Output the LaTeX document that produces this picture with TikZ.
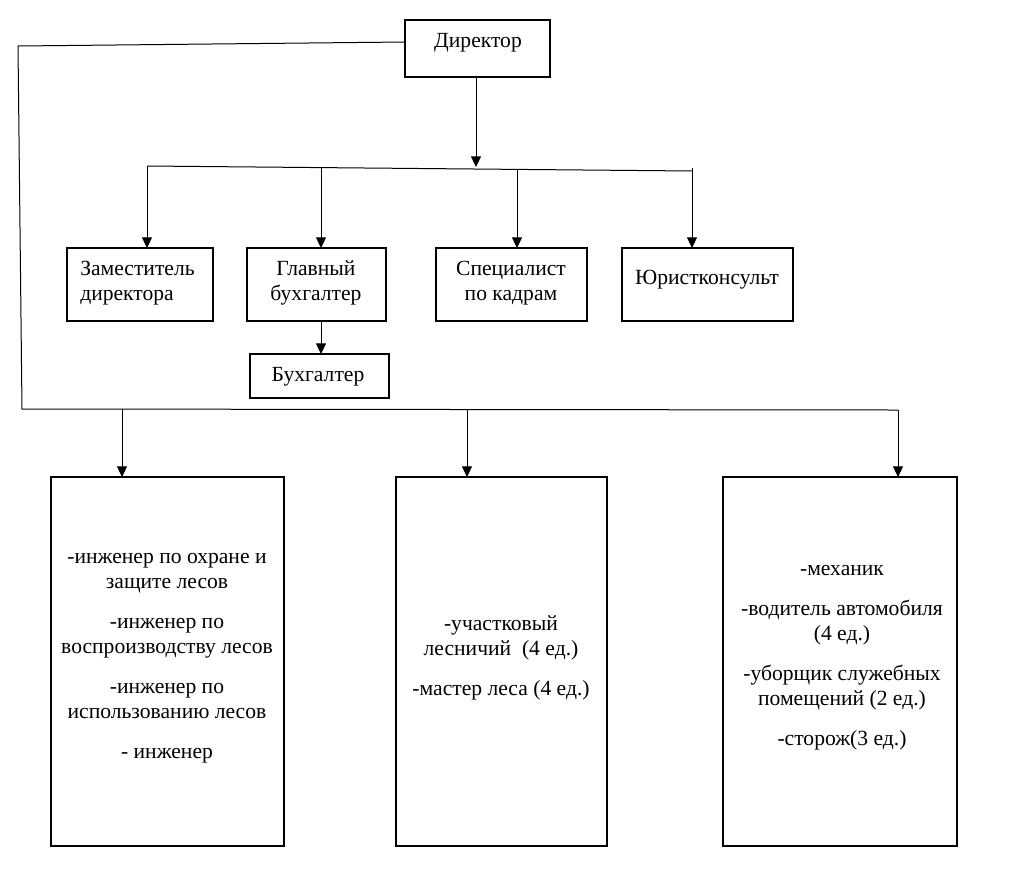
\documentclass[tikz,border=0pt]{standalone}
\usepackage{fontspec}
\setmainfont{Liberation Serif}
\usetikzlibrary{arrows.meta,fit}
\begin{document}
\begin{tikzpicture}[x=0.75pt,y=-0.75pt,
  box/.style={draw,line width=1.6pt,inner sep=0pt,outer sep=0pt},
  txt/.style={font=\fontsize{16.2}{18.75}\selectfont,align=center,inner sep=0pt},
  conn/.style={line width=0.75pt},
  arr/.style={conn,-{Triangle[length=8pt,width=7.5pt]}}]
\useasboundingbox (0,0) rectangle (1021,876);
% boxes
\node[box,fit={(405,20)(550,77)}] (dir) {};
\node[box,fit={(67,248)(213,321)}] (zam) {};
\node[box,fit={(247,248)(386,321)}] (glav) {};
\node[box,fit={(436,248)(587,321)}] (spec) {};
\node[box,fit={(622,248)(793,321)}] (jur) {};
\node[box,fit={(250,354)(389,398)}] (buh) {};
\node[box,fit={(51,477)(284,846)}] (b1) {};
\node[box,fit={(396,477)(607,846)}] (b2) {};
\node[box,fit={(723,477)(957,846)}] (b3) {};
% texts
\node[txt] (tdir) at (478,43) {Директор};
\node[txt,align=left,anchor=west] (tzam) at (80,283) {Заместитель\\директора};
\node[txt] (tglav) at (316,283) {Главный\\бухгалтер};
\node[txt] (tspec) at (511,283) {Специалист\\по кадрам};
\node[txt] (tjur) at (707,280) {Юристконсульт};
\node[txt] (tbuh) at (318,377) {Бухгалтер};
\node[txt] (tb1) at (167,658) {-инженер по охране и\\защите лесов\\[11.25pt]-инженер по\\воспроизводству лесов\\[11.25pt]-инженер по\\использованию лесов\\[11.25pt]- инженер};
\node[txt] (tb2) at (501,658) {-участковый\\лесничий~ (4 ед.)\\[11.25pt]-мастер леса (4 ед.)};
\node[txt] (tb3) at (842,658) {-механик\\[11.25pt]-водитель автомобиля\\(4 ед.)\\[11.25pt]-уборщик служебных\\помещений (2 ед.)\\[11.25pt]-сторож(3 ед.)};
% bus coordinates
\coordinate (busL) at (147,166);
\coordinate (busR) at (693,171);
\coordinate (busM) at (476,167);
\coordinate (tick) at (692,168);
\coordinate (l1) at (18,46);
\coordinate (l2) at (22,409);
\coordinate (l3) at (898,410);
% connectors top
\draw[arr] (dir.south -| busM) -- (busM);
\draw[conn] (busL) -- (busR);
\draw[arr] (busL) -- (zam.north -| busL);
\draw[arr] (321,167) -- (glav.north -| 321,0);
\draw[arr] (517,169) -- (spec.north -| 517,0);
\draw[arr] (tick) -- (jur.north -| tick);
\draw[arr] (glav.south -| 321,0) -- (buh.north -| 321,0);
% big loop
\draw[conn] (dir.west |- 0,42) -- (l1) -- (l2) -- (l3);
\draw[arr] (122,409) -- (b1.north -| 122,0);
\draw[arr] (467,410) -- (b2.north -| 467,0);
\draw[arr] (l3) -- (b3.north -| l3);
\end{tikzpicture}
\end{document}
